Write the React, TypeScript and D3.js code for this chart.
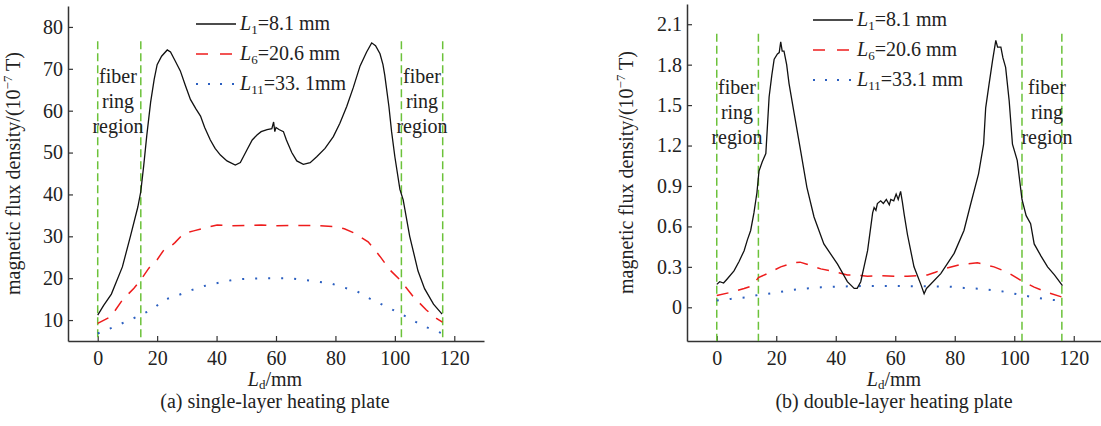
import React, { useEffect, useRef } from 'react'
import * as d3 from 'd3'

// ---- data ----
// (a) single-layer heating plate
const xA1 = [0, 2, 4.6, 8.3, 11, 13.5, 14.5, 15.5, 16.5, 17.8, 19, 20, 21.5, 23.4, 24.5, 26, 27.8, 29.5, 31.2, 33, 34.6, 36, 37.9, 39.5, 41.3, 43.5, 46.3, 48, 50.2, 52, 53.6, 55, 57, 58.6, 59.2, 59.6, 60, 61, 62.5, 63.5, 65.3, 67, 69.2, 71.5, 73.7, 76.5, 79.3, 81.5, 83.8, 86, 88.3, 90.5, 92.2, 93.5, 95, 96, 96.6, 98, 98.9, 100, 101.7, 102.8, 105, 107.8, 110, 113, 115.9]
const yA1 = [11.2, 13.5, 16.2, 22.7, 30, 37, 40.7, 47, 54, 62, 67.5, 71, 73, 74.5, 74, 72, 69.5, 66, 62.7, 60.5, 58.7, 56, 53, 51, 49.4, 48, 47, 47.6, 50.6, 53, 54.2, 55, 55.5, 55.7, 57.3, 55, 56, 55.5, 55, 53, 50, 48, 47.2, 47.6, 49, 51, 53.8, 57, 61, 65.5, 70.7, 74, 76.2, 75.5, 73.6, 71, 68.5, 61, 55, 49, 41.2, 38.7, 30, 21.7, 17.5, 13.8, 11.4]
const xA6 = [0, 4.4, 8.3, 12.2, 14.5, 17.2, 20, 22, 24.5, 26, 29, 32.3, 36, 40.2, 45, 50, 55, 60, 65, 72.6, 79.3, 83, 86, 91, 95, 98.3, 101.7, 106.2, 110.6, 114, 116]
const yA6 = [9.2, 10.8, 14.8, 17.6, 19.6, 22.4, 24.4, 26.5, 27.5, 28.5, 30.7, 31.3, 32, 32.7, 32.5, 32.6, 32.7, 32.5, 32.6, 32.6, 32.3, 31.8, 30.9, 28.7, 25.2, 22, 19.6, 15.6, 12.4, 10.4, 9.5]
const xA11 = [0, 4.9, 9.4, 14.5, 18.9, 22.2, 27.3, 31.8, 36.2, 41.3, 46.3, 51.3, 57, 64.2, 69.2, 73.7, 78.2, 82.7, 87.1, 91.6, 96, 100.6, 105, 109.5, 114.5, 116]
const yA11 = [6.8, 8.2, 9.6, 11.2, 12.8, 14.8, 16, 17.2, 18.2, 19, 19.7, 19.9, 20, 20, 19.6, 19.2, 18.8, 17.8, 16.9, 15.1, 13.6, 12, 10.4, 8.6, 7.2, 6.8]

// (b) double-layer heating plate
const xB1 = [0, 1, 2.3, 3.5, 5.8, 7.5, 9.2, 10.3, 11.4, 12.5, 13.5, 14.2, 15.3, 16.5, 17.6, 18.5, 19.3, 20.4, 21, 21.5, 22, 22.6, 23.5, 24.3, 26, 28.2, 30.3, 32.7, 36, 40.6, 43.9, 46.2, 47.2, 48.4, 49.5, 50.7, 52.4, 52.9, 53.5, 54, 55.1, 56, 57, 58, 58.5, 59.5, 60.3, 61, 61.8, 62.4, 63, 64.1, 66.3, 68.6, 69.7, 70.5, 71.4, 75.3, 79.8, 83.1, 85.4, 88, 89.7, 90.4, 91.5, 92.7, 93.8, 94.4, 95.5, 96.2, 97.1, 98.3, 99.4, 101, 102.6, 104, 105.5, 106.7, 109, 111.2, 113.5, 116.2]
const yB1 = [0.17, 0.19, 0.18, 0.21, 0.27, 0.34, 0.42, 0.5, 0.57, 0.7, 0.85, 1.01, 1.08, 1.14, 1.56, 1.72, 1.84, 1.88, 1.89, 1.97, 1.9, 1.9, 1.8, 1.66, 1.44, 1.16, 0.89, 0.67, 0.47, 0.32, 0.19, 0.14, 0.14, 0.19, 0.3, 0.42, 0.7, 0.74, 0.72, 0.77, 0.79, 0.77, 0.8, 0.76, 0.8, 0.79, 0.84, 0.8, 0.86, 0.78, 0.69, 0.54, 0.3, 0.17, 0.1, 0.14, 0.16, 0.25, 0.4, 0.57, 0.77, 0.99, 1.21, 1.48, 1.65, 1.83, 1.98, 1.93, 1.93, 1.85, 1.78, 1.53, 1.21, 1.09, 0.8, 0.68, 0.62, 0.47, 0.38, 0.3, 0.24, 0.16]
const xB6 = [0, 4.5, 9.2, 12, 14, 17, 21.5, 25.8, 28, 30.3, 35, 39.4, 43.9, 46.2, 50.7, 55, 60, 64.1, 68, 70.8, 73.5, 76.4, 82, 87.6, 93.2, 97.7, 102.2, 106.7, 111.2, 116.2]
const yB6 = [0.087, 0.11, 0.14, 0.16, 0.22, 0.25, 0.3, 0.33, 0.335, 0.32, 0.285, 0.265, 0.24, 0.24, 0.23, 0.235, 0.23, 0.23, 0.235, 0.24, 0.26, 0.285, 0.317, 0.33, 0.3, 0.26, 0.2, 0.15, 0.11, 0.075]
const xB11 = [0, 4.7, 10.3, 14, 20.4, 25.8, 30.3, 35, 40.6, 50, 60, 70, 78, 83.1, 88.7, 95.5, 102.2, 106.7, 111.7, 116.2]
const yB11 = [0.05, 0.062, 0.074, 0.092, 0.11, 0.13, 0.14, 0.148, 0.154, 0.158, 0.158, 0.156, 0.154, 0.144, 0.137, 0.12, 0.092, 0.074, 0.057, 0.05]

const xTicks = [0, 20, 40, 60, 80, 100, 120]
const yTicksA = [10, 20, 30, 40, 50, 60, 70, 80]
const yTicksB = [0, 0.3, 0.6, 0.9, 1.2, 1.5, 1.8, 2.1]
const fiberA = [0, 14.5, 102.2, 116.1]
const fiberB = [0, 14, 102.6, 116]
const legendSub = ['1', '6', '11']
const legendA = ['=8.1 mm', '=20.6 mm', '=33. 1mm']
const legendB = ['=8.1 mm', '=20.6 mm', '=33.1 mm']

const FONT = "'Liberation Serif', 'Times New Roman', serif"
const TXT = '#222'
const FS = 20

function zip(xs: number[], ys: number[]): [number, number][] {
  return xs.map((x, i) => [x, ys[i]])
}

function drawPanel(svg: any, o: any) {
  const x = d3.scaleLinear().domain([-10, 130]).range([o.left, o.right])
  const y = d3.scaleLinear().domain(o.yDomain).range([o.bottom, o.top])
  const g = svg.append('g')

  // axes, ticks point inward
  const ax = g.append('g').attr('transform', `translate(0,${o.bottom})`)
    .call(d3.axisBottom(x).tickValues(xTicks).tickSizeInner(-5).tickSizeOuter(0).tickPadding(10).tickFormat(d3.format('d')))
  const ay = g.append('g').attr('transform', `translate(${o.left},0)`)
    .call(d3.axisLeft(y).tickValues(o.yTicks).tickSizeInner(-5).tickSizeOuter(0).tickPadding(5).tickFormat(o.fmt))
  ;[ax, ay].forEach((a: any) => {
    a.select('.domain').attr('stroke', '#333').attr('stroke-width', 1.5)
    a.selectAll('.tick line').attr('stroke', '#333').attr('stroke-width', 1.2)
    a.selectAll('.tick text').attr('font-family', FONT).attr('font-size', FS).attr('fill', TXT)
  })

  // fiber ring region lines
  o.fiber.forEach((f: number) => {
    g.append('line')
      .attr('x1', x(f)).attr('x2', x(f))
      .attr('y1', y(o.fiberTop)).attr('y2', o.bottom)
      .attr('stroke', '#6cc23a').attr('stroke-width', 1.5)
      .attr('stroke-dasharray', '8,4')
  })

  const line = d3.line().x((d: any) => x(d[0])).y((d: any) => y(d[1]))
  const series = [
    { d: o.s11, c: '#2b5fc0', dash: '2,11', w: 2 },
    { d: o.s6, c: '#ee1c1c', dash: '12,10', w: 1.5 },
    { d: o.s1, c: '#111', dash: null, w: 1.3 }
  ]
  series.forEach(s => {
    g.append('path').attr('d', line(s.d)).attr('fill', 'none')
      .attr('stroke', s.c).attr('stroke-width', s.w)
      .attr('stroke-dasharray', s.dash)
  })

  // fiber ring region labels
  o.fiberLabels.forEach((cx: number) => {
    ;['fiber', 'ring', 'region'].forEach((t, i) => {
      g.append('text').attr('x', cx).attr('y', o.fiberTextY + i * 25)
        .attr('text-anchor', 'middle').attr('font-family', FONT)
        .attr('font-size', FS).attr('fill', TXT).text(t)
    })
  })

  // legend
  const legStyles = [
    { c: '#111', dash: null, w: 1.3 },
    { c: '#ee1c1c', dash: '12,12', w: 1.5 },
    { c: '#2b5fc0', dash: '2,10', w: 2 }
  ]
  legStyles.forEach((s, i) => {
    const ly = o.legY + i * 30
    g.append('line').attr('x1', o.legX).attr('x2', o.legX + 40)
      .attr('y1', ly).attr('y2', ly)
      .attr('stroke', s.c).attr('stroke-width', s.w).attr('stroke-dasharray', s.dash)
    const t = g.append('text').attr('x', o.legX + 44).attr('y', ly + 6)
      .attr('font-family', FONT).attr('font-size', FS).attr('fill', TXT)
    t.append('tspan').attr('font-style', 'italic').text('L')
    t.append('tspan').attr('font-size', 13).attr('dy', 4).text(legendSub[i])
    t.append('tspan').attr('dy', -4).text(o.legend[i])
  })

  // y label
  const yl = g.append('text')
    .attr('transform', `translate(${o.yLabelX},${(o.top + o.bottom) / 2}) rotate(-90)`)
    .attr('text-anchor', 'middle').attr('font-family', FONT)
    .attr('font-size', FS).attr('fill', TXT)
  yl.append('tspan').text('magnetic flux density/(10')
  yl.append('tspan').attr('font-size', 13).attr('dy', -8).text('\u22127')
  yl.append('tspan').attr('dy', 8).text(' T)')

  // x label
  const xl = g.append('text').attr('x', o.xLabelX).attr('y', 386)
    .attr('text-anchor', 'middle').attr('font-family', FONT)
    .attr('font-size', FS).attr('fill', TXT)
  xl.append('tspan').attr('font-style', 'italic').text('L')
  xl.append('tspan').attr('font-size', 13).attr('dy', 3).text('d')
  xl.append('tspan').attr('dy', -3).text('/mm')

  g.append('text').attr('x', o.xLabelX).attr('y', 408)
    .attr('text-anchor', 'middle').attr('font-family', FONT)
    .attr('font-size', FS).attr('fill', TXT).text(o.caption)
}

export default function App() {
  const ref = useRef<SVGSVGElement>(null)

  useEffect(() => {
    const svg = d3.select(ref.current)
    svg.selectAll('*').remove()

    drawPanel(svg, {
      left: 68, right: 484, top: 6, bottom: 341,
      yDomain: [5, 85], yTicks: yTicksA, fmt: d3.format('d'),
      fiber: fiberA, fiberTop: 76.6, fiberLabels: [118, 422], fiberTextY: 83,
      s1: zip(xA1, yA1), s6: zip(xA6, yA6), s11: zip(xA11, yA11),
      legX: 196, legY: 24, legend: legendA,
      yLabelX: 20, xLabelX: 275, caption: '(a) single-layer heating plate'
    })
    drawPanel(svg, {
      left: 687, right: 1103.5, top: 4, bottom: 341,
      yDomain: [-0.25, 2.25], yTicks: yTicksB, fmt: (d: number) => (d === 0 ? '0' : d3.format('.1f')(d)),
      fiber: fiberB, fiberTop: 2.03, fiberLabels: [737, 1047], fiberTextY: 94,
      s1: zip(xB1, yB1), s6: zip(xB6, yB6), s11: zip(xB11, yB11),
      legX: 813, legY: 20, legend: legendB,
      yLabelX: 633, xLabelX: 894, caption: '(b) double-layer heating plate'
    })
  }, [])

  return (
    <svg ref={ref} width={1101} height={426}
      style={{ position: 'absolute', left: 0, top: 0, background: '#fff' }} />
  )
}
